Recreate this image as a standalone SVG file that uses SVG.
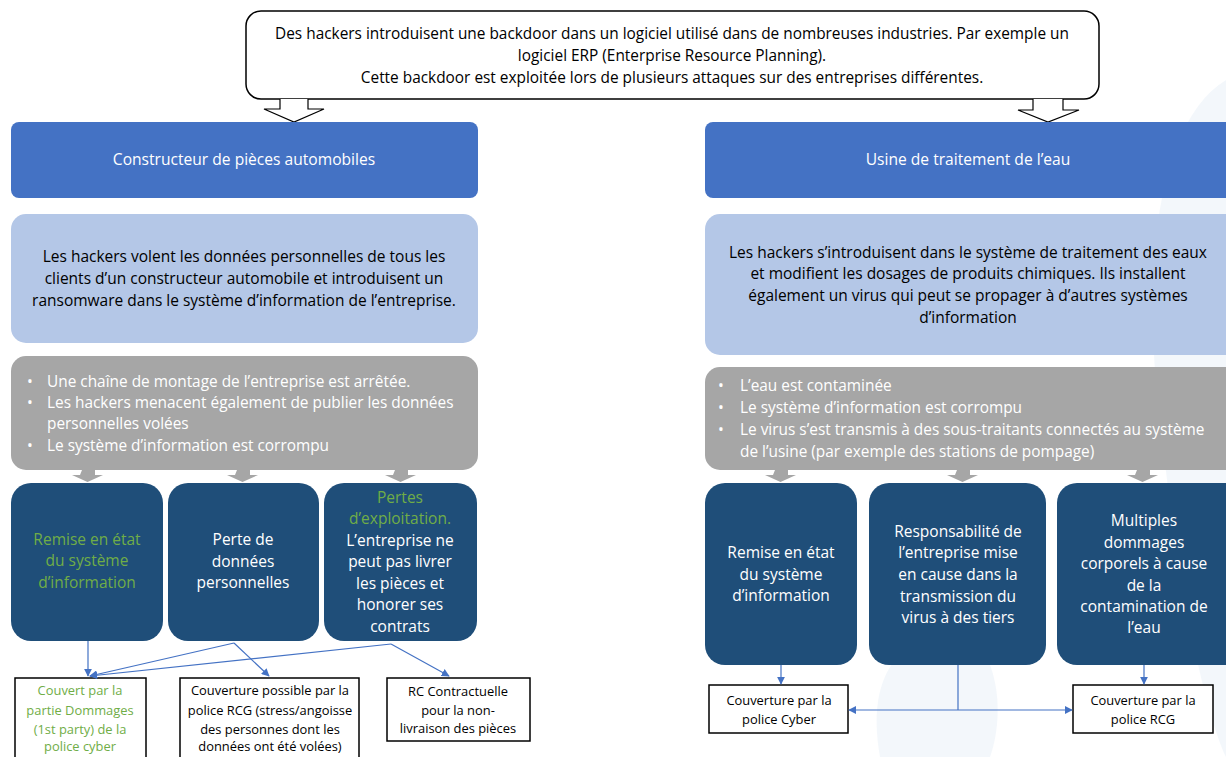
<svg xmlns="http://www.w3.org/2000/svg" width="1226" height="757" viewBox="0 0 1226 757">
<style>
text{font-family:"Open Sans","Noto Sans","Liberation Sans",sans-serif;}
.c{text-anchor:middle;}
.top{font-size:15.4px;fill:#000;}
.hdr{font-size:15.6px;fill:#fff;}
.lb{font-size:15.5px;fill:#000;}
.gr{font-size:15.4px;fill:#fff;}
.dk{font-size:15.5px;fill:#fff;}
.bt{font-size:12.9px;fill:#000;}
text.gn{fill:#70AD47;}
.hdrbox{fill:#4472C4;}
.lbbox{fill:#B4C7E7;}
.grbox{fill:#A6A6A6;}
.dkbox{fill:#1F4E79;}
.wbox{fill:#fff;stroke:#000;stroke-width:1.5;}
.conn{fill:none;stroke:#4472C4;stroke-width:1.2;}
.garrow{fill:#A6A6A6;}
</style>
<defs>
<marker id="ah" viewBox="0 0 10 10" refX="9" refY="5" markerWidth="8" markerHeight="8" markerUnits="userSpaceOnUse" orient="auto">
<path d="M0,0 L10,5 L0,10 z" fill="#4472C4"/>
</marker>
</defs>
<rect width="1226" height="757" fill="#fff"/>
<!-- faint watermark shapes -->
<g fill="#EEF3FA" opacity="0.7">
<path d="M1226,80 C1160,120 1140,260 1160,420 C1175,560 1200,700 1226,757 Z"/>
<path d="M880,757 C870,700 880,650 940,630 C990,620 1010,700 990,757 Z"/>
</g>

<g id="top">
<rect x="246" y="11" width="853" height="88" rx="15" class="wbox"/>
<text class="c top" x="672" y="39">Des hackers introduisent une backdoor dans un logiciel utilisé dans de nombreuses industries. Par exemple un</text>
<text class="c top" x="672" y="61">logiciel ERP (Enterprise Resource Planning).</text>
<text class="c top" x="672" y="83">Cette backdoor est exploitée lors de plusieurs attaques sur des entreprises différentes.</text>
</g>

<g id="block-arrows">
<path d="M280,99 L280,109 L264,109 L294,122 L324,109 L308,109 L308,99" fill="#fff" stroke="#000" stroke-width="1.2"/>
<path d="M1033,99 L1033,110 L1018,110 L1048,122 L1079,110 L1063,110 L1063,99" fill="#fff" stroke="#000" stroke-width="1.2"/>
</g>

<g id="hdr-left">
<rect x="11" y="122" width="467" height="76" rx="8" class="hdrbox"/>
<text class="c hdr" x="244" y="165">Constructeur de pièces automobiles</text>
</g>
<g id="hdr-right">
<rect x="705" y="122" width="530" height="76" rx="8" class="hdrbox"/>
<text class="c hdr" x="968" y="165">Usine de traitement de l’eau</text>
</g>

<g id="desc-left">
<rect x="11" y="214" width="467" height="129" rx="15" class="lbbox"/>
<text class="c lb" x="244" y="262">Les hackers volent les données personnelles de tous les</text>
<text class="c lb" x="244" y="284">clients d’un constructeur automobile et introduisent un</text>
<text class="c lb" x="244" y="306">ransomware dans le système d’information de l’entreprise.</text>
</g>
<g id="desc-right">
<rect x="705" y="214" width="540" height="141" rx="15" class="lbbox"/>
<text class="c lb" x="968" y="258">Les hackers s’introduisent dans le système de traitement des eaux</text>
<text class="c lb" x="968" y="279">et modifient les dosages de produits chimiques. Ils installent</text>
<text class="c lb" x="968" y="301">également un virus qui peut se propager à d’autres systèmes</text>
<text class="c lb" x="968" y="323">d’information</text>
</g>

<g id="impact-left">
<rect x="11" y="356" width="467" height="114" rx="15" class="grbox"/>
<text class="gr" x="27" y="387">•</text><text class="gr" x="47" y="387">Une chaîne de montage de l’entreprise est arrêtée.</text>
<text class="gr" x="27" y="408">•</text><text class="gr" x="47" y="408">Les hackers menacent également de publier les données</text>
<text class="gr" x="47" y="429">personnelles volées</text>
<text class="gr" x="27" y="451">•</text><text class="gr" x="47" y="451">Le système d’information est corrompu</text>
</g>
<g id="impact-right">
<rect x="705" y="367" width="540" height="103" rx="15" class="grbox"/>
<text class="gr" x="718" y="391">•</text><text class="gr" x="740" y="391">L’eau est contaminée</text>
<text class="gr" x="718" y="413">•</text><text class="gr" x="740" y="413">Le système d’information est corrompu</text>
<text class="gr" x="718" y="435">•</text><text class="gr" x="740" y="435">Le virus s’est transmis à des sous-traitants connectés au système</text>
<text class="gr" x="740" y="457">de l’usine (par exemple des stations de pompage)</text>
</g>

<g id="grey-arrows">
<path class="garrow" d="M82,470 h13 v5 h8 l-15.5,7 l-15.5,-7 h8 z"/>
<path class="garrow" d="M237,470 h13 v5 h8 l-15.5,7 l-15.5,-7 h8 z"/>
<path class="garrow" d="M395,470 h13 v5 h8 l-15.5,7 l-15.5,-7 h8 z"/>
<path class="garrow" d="M775,470 h13 v5 h8 l-15.5,7 l-15.5,-7 h8 z"/>
<path class="garrow" d="M957,470 h13 v5 h8 l-15.5,7 l-15.5,-7 h8 z"/>
<path class="garrow" d="M1137,470 h13 v5 h8 l-15.5,7 l-15.5,-7 h8 z"/>
</g>

<g id="cons-l1">
<rect x="11" y="483" width="152" height="158" rx="20" class="dkbox"/>
<text class="c dk gn" x="87" y="545">Remise en état</text>
<text class="c dk gn" x="87" y="566">du système</text>
<text class="c dk gn" x="87" y="588">d’information</text>
</g>
<g id="cons-l2">
<rect x="168" y="483" width="151" height="158" rx="20" class="dkbox"/>
<text class="c dk" x="243" y="545">Perte de</text>
<text class="c dk" x="243" y="567">données</text>
<text class="c dk" x="243" y="588">personnelles</text>
</g>
<g id="cons-l3">
<rect x="324" y="483" width="153" height="158" rx="20" class="dkbox"/>
<text class="c dk gn" x="400" y="503">Pertes</text>
<text class="c dk gn" x="400" y="524">d’exploitation.</text>
<text class="c dk" x="400" y="546">L’entreprise ne</text>
<text class="c dk" x="400" y="567">peut pas livrer</text>
<text class="c dk" x="400" y="589">les pièces et</text>
<text class="c dk" x="400" y="610">honorer ses</text>
<text class="c dk" x="400" y="632">contrats</text>
</g>

<g id="cons-r1">
<rect x="705" y="483" width="152" height="182" rx="20" class="dkbox"/>
<text class="c dk" x="781" y="558">Remise en état</text>
<text class="c dk" x="781" y="580">du système</text>
<text class="c dk" x="781" y="601">d’information</text>
</g>
<g id="cons-r2">
<rect x="869" y="483" width="177" height="182" rx="20" class="dkbox"/>
<text class="c dk" x="958" y="537">Responsabilité de</text>
<text class="c dk" x="958" y="558">l’entreprise mise</text>
<text class="c dk" x="958" y="580">en cause dans la</text>
<text class="c dk" x="958" y="602">transmission du</text>
<text class="c dk" x="958" y="623">virus à des tiers</text>
</g>
<g id="cons-r3">
<rect x="1057" y="483" width="190" height="182" rx="20" class="dkbox"/>
<text class="c dk" x="1144" y="526">Multiples</text>
<text class="c dk" x="1144" y="548">dommages</text>
<text class="c dk" x="1144" y="569">corporels à cause</text>
<text class="c dk" x="1144" y="591">de la</text>
<text class="c dk" x="1144" y="612">contamination de</text>
<text class="c dk" x="1144" y="633">l’eau</text>
</g>

<g id="cov-a">
<rect x="15" y="678" width="131" height="85" class="wbox"/>
<text class="c bt gn" x="80" y="695">Couvert par la</text>
<text class="c bt gn" x="80" y="715">partie Dommages</text>
<text class="c bt gn" x="80" y="734">(1st party) de la</text>
<text class="c bt gn" x="80" y="751">police cyber</text>
</g>
<g id="cov-b">
<rect x="180" y="678" width="179" height="85" class="wbox"/>
<text class="c bt" x="270" y="695">Couverture  possible par la</text>
<text class="c bt" x="270" y="715">police RCG (stress/angoisse</text>
<text class="c bt" x="270" y="734">des personnes dont les</text>
<text class="c bt" x="270" y="751">données ont été volées)</text>
</g>
<g id="cov-c">
<rect x="387" y="678" width="143" height="63" class="wbox"/>
<text class="c bt" x="458" y="696">RC Contractuelle</text>
<text class="c bt" x="458" y="715">pour la non-</text>
<text class="c bt" x="458" y="733">livraison des pièces</text>
</g>
<g id="cov-cyber">
<rect x="709" y="685" width="139" height="48" class="wbox"/>
<text class="c bt" x="779" y="705">Couverture  par la</text>
<text class="c bt" x="779" y="724">police Cyber</text>
</g>
<g id="cov-rcg">
<rect x="1073" y="685" width="140" height="48" class="wbox"/>
<text class="c bt" x="1143" y="705">Couverture  par la</text>
<text class="c bt" x="1143" y="724">police RCG</text>
</g>

<g id="connectors">
<path class="conn" d="M88,641 L88,676" marker-end="url(#ah)"/>
<path class="conn" d="M234,643 L90,676" marker-end="url(#ah)"/>
<path class="conn" d="M234,643 L269,676" marker-end="url(#ah)"/>
<path class="conn" d="M391,644 L90,676" marker-end="url(#ah)"/>
<path class="conn" d="M391,644 L449,676" marker-end="url(#ah)"/>
<path class="conn" d="M781,665 L781,684" marker-end="url(#ah)"/>
<path class="conn" d="M1144,665 L1144,684" marker-end="url(#ah)"/>
<path class="conn" d="M958,665 L958,710"/>
<path class="conn" d="M958,710 L849,710" marker-end="url(#ah)"/>
<path class="conn" d="M958,710 L1072,710" marker-end="url(#ah)"/>
</g>
</svg>
